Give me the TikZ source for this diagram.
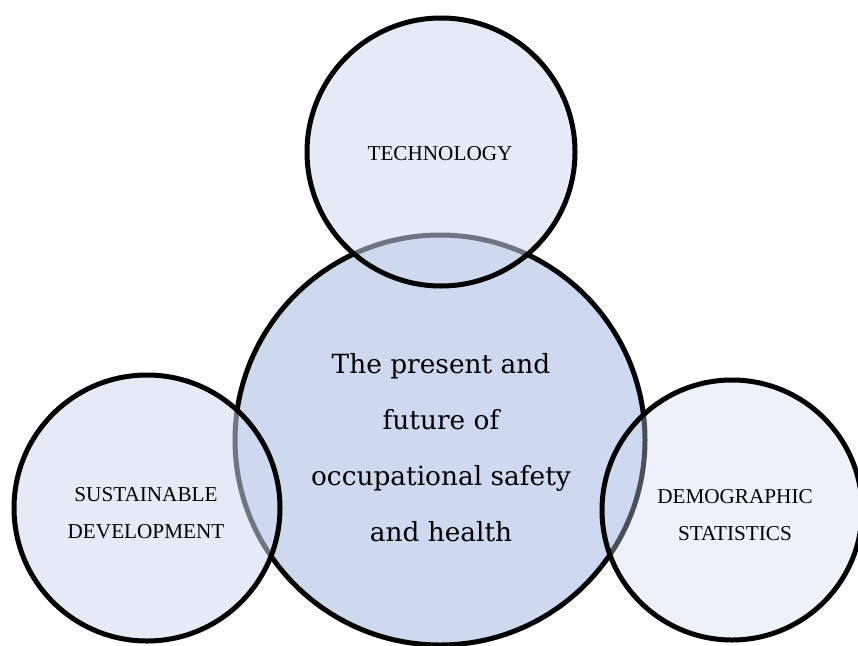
\documentclass[tikz,border=0pt]{standalone}
\usepackage{fontspec}
\setmainfont{Liberation Serif}
\newfontfamily\centerfont{DejaVu Serif}
\definecolor{bigfill}{RGB}{205,217,238}
\begin{document}
\begin{tikzpicture}[x=1pt,y=-1pt,
  ring/.style={circle, draw=black, line width=5pt, inner sep=0pt, minimum size=#1},
  smalltext/.style={align=center, font=\fontsize{21.2}{37}\selectfont, inner sep=0pt},
  bigtext/.style={align=center, font=\centerfont\fontsize{26.4}{56}\selectfont, inner sep=0pt}]
\useasboundingbox (0,0) rectangle (858,645);
\node[ring=410pt, fill=bigfill] (core) at (440,440) {};
\node[ring=268pt, fill=bigfill, fill opacity=0.54] (tech) at (441,152) {};
\node[ring=266pt, fill=bigfill, fill opacity=0.54] (sust) at (147,508) {};
\node[ring=260pt, fill=bigfill, fill opacity=0.37] (demo) at (732,510) {};
\node[bigtext] (coretext) at (441,448) {The present and\\future of\\occupational safety\\and health};
\node[smalltext] (techtext) at (440,154) {TECHNOLOGY};
\node[smalltext] (susttext) at (146,513) {SUSTAINABLE\\DEVELOPMENT};
\node[smalltext] (demotext) at (735,515) {DEMOGRAPHIC\\STATISTICS};
\end{tikzpicture}
\end{document}
